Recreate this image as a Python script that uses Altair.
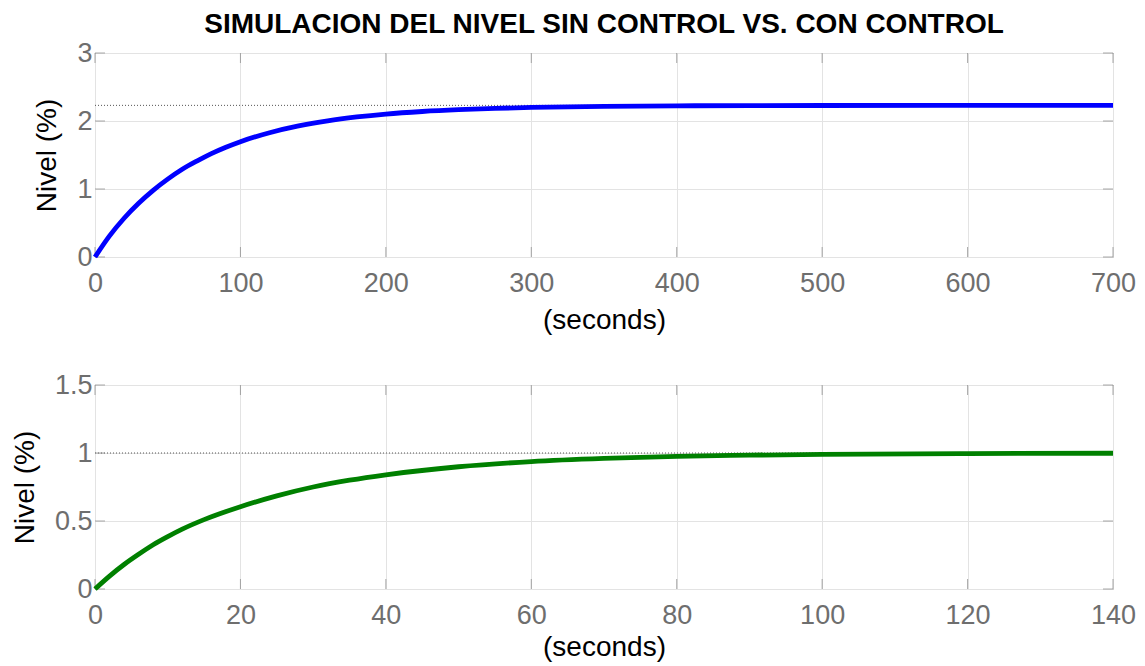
import altair as alt
import pandas as pd

TITLE = "SIMULACION DEL NIVEL SIN CONTROL VS. CON CONTROL"

# Respuesta sin control (panel superior)
t_sin = [0, 10, 20, 30, 40, 50, 60, 70, 80, 90, 100, 120, 140, 160, 180, 200,
         225, 250, 275, 300, 350, 400, 450, 500, 600, 700]
nivel_sin = [0.0, 0.31, 0.57, 0.79, 0.98, 1.145, 1.29, 1.41, 1.52, 1.614,
             1.696, 1.828, 1.928, 2.003, 2.059, 2.102, 2.14, 2.167, 2.186,
             2.199, 2.215, 2.223, 2.227, 2.228, 2.23, 2.23]
final_sin = 2.23

# Respuesta con control (panel inferior)
t_con = [0, 2, 4, 6, 8, 10, 12, 15, 20, 25, 30, 35, 40, 50, 60, 70, 80, 90,
         100, 120, 140]
nivel_con = [0.0, 0.095, 0.18, 0.255, 0.325, 0.385, 0.44, 0.51, 0.605, 0.685,
             0.75, 0.80, 0.84, 0.899, 0.937, 0.960, 0.975, 0.984, 0.990,
             0.996, 0.998]
final_con = 1.0

xticks_sin = [0, 100, 200, 300, 400, 500, 600, 700]
yticks_sin = [0, 1, 2, 3]
xticks_con = [0, 20, 40, 60, 80, 100, 120, 140]
yticks_con = [0, 0.5, 1, 1.5]

FONT = "Liberation Sans"
FRAME = "#858585"
W, H = 1018, 204


def panel(t, v, final, xt, yt, color, yfmt, xtitle_pad):
    xmax, ymax = xt[-1], yt[-1]
    xs = alt.Scale(domain=[0, xmax], nice=False, zero=False)
    ys = alt.Scale(domain=[0, ymax], nice=False, zero=False)
    common = dict(grid=True, ticks=False, domain=False, labelFlush=False,
                  labelFont=FONT, labelFontSize=27, labelColor="#6e6e6e",
                  titleFont=FONT, titleFontSize=28, titleColor="#000000",
                  titleFontWeight="normal", gridColor="#e3e3e3", gridWidth=1)
    xaxis = alt.Axis(values=xt, title="(seconds)", format="d",
                     labelPadding=13, titlePadding=xtitle_pad, **common)
    yaxis = alt.Axis(values=yt, title="Nivel (%)", format=yfmt,
                     labelPadding=3, titlePadding=15, **common)

    def enc(ch):
        return ch.encode(x=alt.X("t:Q", scale=xs, axis=xaxis),
                         y=alt.Y("v:Q", scale=ys, axis=yaxis))

    ref_df = pd.DataFrame({"t": [0], "t2": [xmax], "v": [final]})
    ref = enc(alt.Chart(ref_df).mark_rule(color="#555555", strokeWidth=1,
                                          strokeDash=[1, 2])).encode(x2="t2:Q")

    line = enc(alt.Chart(pd.DataFrame({"t": t, "v": v})).mark_line(
        color=color, strokeWidth=4.8, interpolate="monotone"))

    xb = pd.DataFrame({"t": xt, "v": [0] * len(xt)})
    xtop = pd.DataFrame({"t": xt, "v": [ymax] * len(xt)})
    yl = pd.DataFrame({"t": [0] * len(yt), "v": yt})
    yr = pd.DataFrame({"t": [xmax] * len(yt), "v": yt})
    tk = dict(color=FRAME, thickness=1, size=10)
    t1 = enc(alt.Chart(xb).mark_tick(orient="vertical", yOffset=-5, **tk))
    t2 = enc(alt.Chart(xtop).mark_tick(orient="vertical", yOffset=5, **tk))
    t3 = enc(alt.Chart(yl).mark_tick(orient="horizontal", xOffset=5, **tk))
    t4 = enc(alt.Chart(yr).mark_tick(orient="horizontal", xOffset=-5, **tk))

    return alt.layer(ref, t1, t2, t3, t4, line).properties(width=W, height=H)


top = panel(t_sin, nivel_sin, final_sin, xticks_sin, yticks_sin, "#0000ff",
            "d", 10)
bottom = panel(t_con, nivel_con, final_con, xticks_con, yticks_con, "#008000",
               ".1~f", 5)

chart = alt.vconcat(top, bottom, spacing=128, bounds="flush").properties(
    title=alt.TitleParams(TITLE, fontSize=28, fontWeight="bold", font=FONT,
                          color="#000000", anchor="middle", frame="group",
                          offset=0),
    padding={"left": 2, "top": 2, "right": 0, "bottom": 0},
    background="#ffffff",
).configure_view(stroke=FRAME, strokeWidth=1)

chart.save("out.html", embed_options={"renderer": "svg", "actions": False})
